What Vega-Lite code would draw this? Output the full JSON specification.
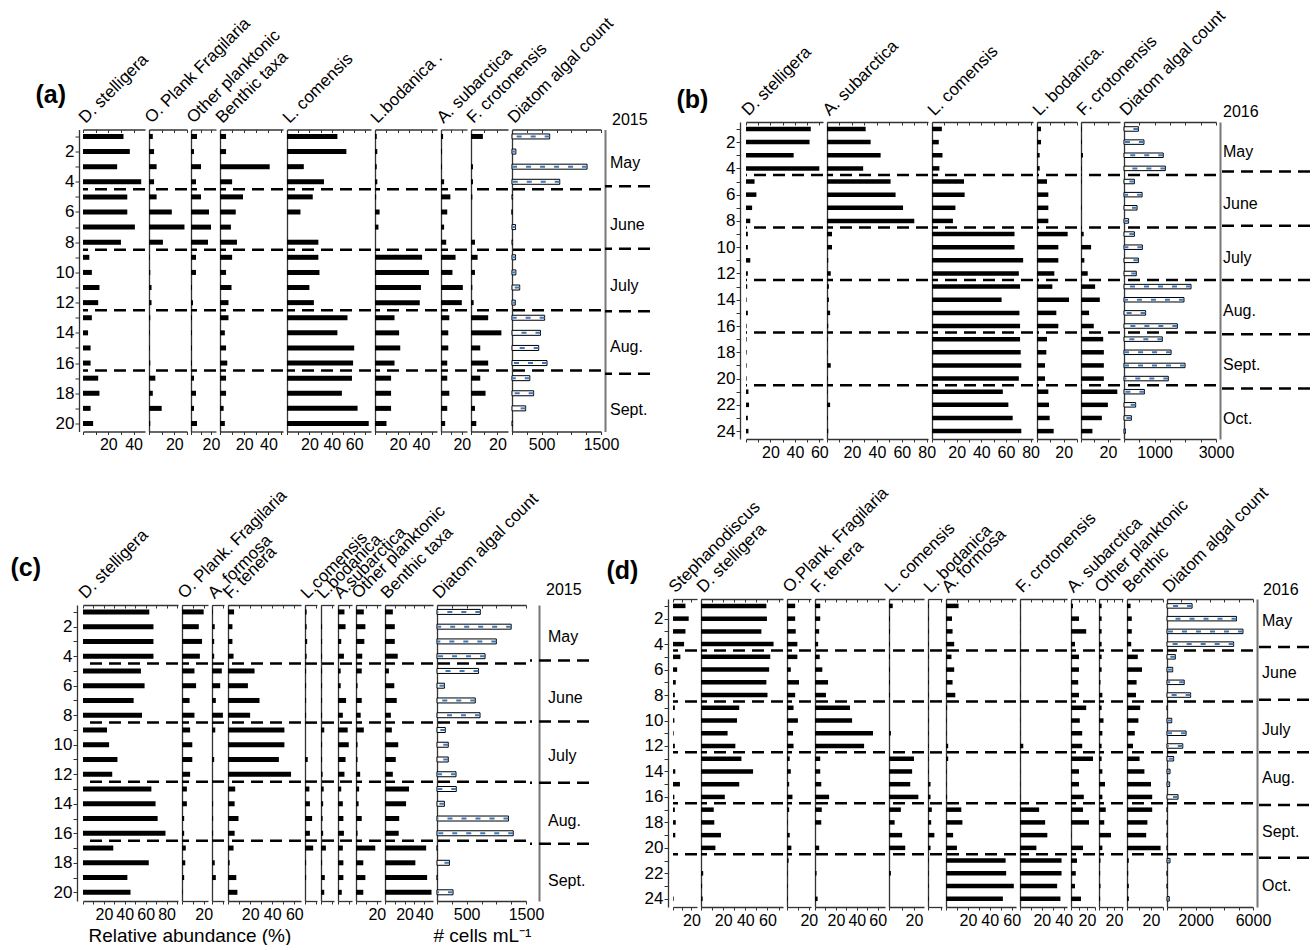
{
"$schema": "https://vega.github.io/schema/vega-lite/v6.json",
"autosize": {"type": "pad"},
"padding": {"left": 10, "top": 6, "right": 0, "bottom": 0},
"background": "white",
"datasets": {
"a": [
{"t":"Dst","s":1,"v":32},{"t":"Dst","s":2,"v":37},{"t":"Dst","s":3,"v":27},{"t":"Dst","s":4,"v":46},{"t":"Dst","s":5,"v":35},{"t":"Dst","s":6,"v":35},{"t":"Dst","s":7,"v":41},{"t":"Dst","s":8,"v":30},{"t":"Dst","s":9,"v":5},{"t":"Dst","s":10,"v":7},{"t":"Dst","s":11,"v":13},{"t":"Dst","s":12,"v":12},{"t":"Dst","s":13,"v":7},{"t":"Dst","s":14,"v":4},{"t":"Dst","s":15,"v":6},{"t":"Dst","s":16,"v":6},{"t":"Dst","s":17,"v":12},{"t":"Dst","s":18,"v":13},{"t":"Dst","s":19,"v":6},{"t":"Dst","s":20,"v":8},
{"t":"OPl","s":1,"v":3},{"t":"OPl","s":2,"v":4},{"t":"OPl","s":3,"v":6},{"t":"OPl","s":4,"v":4},{"t":"OPl","s":5,"v":6},{"t":"OPl","s":6,"v":18},{"t":"OPl","s":7,"v":28},{"t":"OPl","s":8,"v":11},{"t":"OPl","s":9,"v":0.5},{"t":"OPl","s":10,"v":1},{"t":"OPl","s":11,"v":2},{"t":"OPl","s":12,"v":2},{"t":"OPl","s":13,"v":1},{"t":"OPl","s":14,"v":0.5},{"t":"OPl","s":15,"v":0.5},{"t":"OPl","s":16,"v":1},{"t":"OPl","s":17,"v":5},{"t":"OPl","s":18,"v":3},{"t":"OPl","s":19,"v":10},{"t":"OPl","s":20,"v":1},
{"t":"Oth","s":1,"v":6},{"t":"Oth","s":2,"v":3},{"t":"Oth","s":3,"v":10},{"t":"Oth","s":4,"v":5},{"t":"Oth","s":5,"v":10},{"t":"Oth","s":6,"v":18},{"t":"Oth","s":7,"v":20},{"t":"Oth","s":8,"v":17},{"t":"Oth","s":9,"v":5},{"t":"Oth","s":10,"v":5},{"t":"Oth","s":11,"v":1},{"t":"Oth","s":12,"v":2},{"t":"Oth","s":13,"v":1},{"t":"Oth","s":14,"v":1},{"t":"Oth","s":15,"v":1},{"t":"Oth","s":16,"v":1},{"t":"Oth","s":17,"v":3},{"t":"Oth","s":18,"v":5},{"t":"Oth","s":19,"v":3},{"t":"Oth","s":20,"v":6},
{"t":"Ben","s":1,"v":5},{"t":"Ben","s":2,"v":5},{"t":"Ben","s":3,"v":41},{"t":"Ben","s":4,"v":10},{"t":"Ben","s":5,"v":19},{"t":"Ben","s":6,"v":13},{"t":"Ben","s":7,"v":9},{"t":"Ben","s":8,"v":14},{"t":"Ben","s":9,"v":10},{"t":"Ben","s":10,"v":5},{"t":"Ben","s":11,"v":9.5},{"t":"Ben","s":12,"v":7},{"t":"Ben","s":13,"v":7},{"t":"Ben","s":14,"v":4},{"t":"Ben","s":15,"v":5},{"t":"Ben","s":16,"v":6},{"t":"Ben","s":17,"v":5},{"t":"Ben","s":18,"v":5},{"t":"Ben","s":19,"v":3},{"t":"Ben","s":20,"v":4},
{"t":"Lcom","s":1,"v":45},{"t":"Lcom","s":2,"v":53},{"t":"Lcom","s":3,"v":15},{"t":"Lcom","s":4,"v":33},{"t":"Lcom","s":5,"v":23},{"t":"Lcom","s":6,"v":12},{"t":"Lcom","s":7,"v":0},{"t":"Lcom","s":8,"v":28},{"t":"Lcom","s":9,"v":28},{"t":"Lcom","s":10,"v":29},{"t":"Lcom","s":11,"v":20},{"t":"Lcom","s":12,"v":24},{"t":"Lcom","s":13,"v":54},{"t":"Lcom","s":14,"v":45},{"t":"Lcom","s":15,"v":60},{"t":"Lcom","s":16,"v":59},{"t":"Lcom","s":17,"v":58},{"t":"Lcom","s":18,"v":49},{"t":"Lcom","s":19,"v":63},{"t":"Lcom","s":20,"v":73},
{"t":"Lbod","s":1,"v":1.5},{"t":"Lbod","s":2,"v":2},{"t":"Lbod","s":3,"v":1.5},{"t":"Lbod","s":4,"v":2},{"t":"Lbod","s":5,"v":1},{"t":"Lbod","s":6,"v":4},{"t":"Lbod","s":7,"v":3},{"t":"Lbod","s":8,"v":0},{"t":"Lbod","s":9,"v":41},{"t":"Lbod","s":10,"v":47},{"t":"Lbod","s":11,"v":40},{"t":"Lbod","s":12,"v":39},{"t":"Lbod","s":13,"v":17},{"t":"Lbod","s":14,"v":21},{"t":"Lbod","s":15,"v":22},{"t":"Lbod","s":16,"v":17},{"t":"Lbod","s":17,"v":14},{"t":"Lbod","s":18,"v":14},{"t":"Lbod","s":19,"v":14},{"t":"Lbod","s":20,"v":10},
{"t":"Asub","s":1,"v":2},{"t":"Asub","s":2,"v":1},{"t":"Asub","s":3,"v":1},{"t":"Asub","s":4,"v":3},{"t":"Asub","s":5,"v":9},{"t":"Asub","s":6,"v":6},{"t":"Asub","s":7,"v":3},{"t":"Asub","s":8,"v":5},{"t":"Asub","s":9,"v":14},{"t":"Asub","s":10,"v":11},{"t":"Asub","s":11,"v":21},{"t":"Asub","s":12,"v":20},{"t":"Asub","s":13,"v":8},{"t":"Asub","s":14,"v":7},{"t":"Asub","s":15,"v":7},{"t":"Asub","s":16,"v":6},{"t":"Asub","s":17,"v":6},{"t":"Asub","s":18,"v":8},{"t":"Asub","s":19,"v":6},{"t":"Asub","s":20,"v":4},
{"t":"Fcro","s":1,"v":9},{"t":"Fcro","s":2,"v":0},{"t":"Fcro","s":3,"v":1.5},{"t":"Fcro","s":4,"v":1.5},{"t":"Fcro","s":5,"v":1},{"t":"Fcro","s":6,"v":0},{"t":"Fcro","s":7,"v":0},{"t":"Fcro","s":8,"v":3},{"t":"Fcro","s":9,"v":5},{"t":"Fcro","s":10,"v":3},{"t":"Fcro","s":11,"v":1},{"t":"Fcro","s":12,"v":2},{"t":"Fcro","s":13,"v":13},{"t":"Fcro","s":14,"v":23},{"t":"Fcro","s":15,"v":7},{"t":"Fcro","s":16,"v":13},{"t":"Fcro","s":17,"v":7},{"t":"Fcro","s":18,"v":11},{"t":"Fcro","s":19,"v":3},{"t":"Fcro","s":20,"v":4},
{"t":"Dia","s":1,"v":635},{"t":"Dia","s":2,"v":65},{"t":"Dia","s":3,"v":1265},{"t":"Dia","s":4,"v":805},{"t":"Dia","s":5,"v":10},{"t":"Dia","s":6,"v":0},{"t":"Dia","s":7,"v":60},{"t":"Dia","s":8,"v":10},{"t":"Dia","s":9,"v":60},{"t":"Dia","s":10,"v":65},{"t":"Dia","s":11,"v":130},{"t":"Dia","s":12,"v":55},{"t":"Dia","s":13,"v":550},{"t":"Dia","s":14,"v":480},{"t":"Dia","s":15,"v":450},{"t":"Dia","s":16,"v":590},{"t":"Dia","s":17,"v":300},{"t":"Dia","s":18,"v":365},{"t":"Dia","s":19,"v":230},{"t":"Dia","s":20,"v":10}
],
"b": [
{"t":"Dst","s":1,"v":53},{"t":"Dst","s":2,"v":52},{"t":"Dst","s":3,"v":39},{"t":"Dst","s":4,"v":60},{"t":"Dst","s":5,"v":7},{"t":"Dst","s":6,"v":8.5},{"t":"Dst","s":7,"v":5},{"t":"Dst","s":8,"v":3.5},{"t":"Dst","s":9,"v":1.5},{"t":"Dst","s":10,"v":1.5},{"t":"Dst","s":11,"v":3.5},{"t":"Dst","s":12,"v":1.5},{"t":"Dst","s":13,"v":1},{"t":"Dst","s":14,"v":0.5},{"t":"Dst","s":15,"v":1.5},{"t":"Dst","s":16,"v":0.5},{"t":"Dst","s":17,"v":0.5},{"t":"Dst","s":18,"v":0.5},{"t":"Dst","s":19,"v":0.5},{"t":"Dst","s":20,"v":0.5},{"t":"Dst","s":21,"v":2},{"t":"Dst","s":22,"v":2.5},{"t":"Dst","s":23,"v":1.5},{"t":"Dst","s":24,"v":2},
{"t":"Asub","s":1,"v":31},{"t":"Asub","s":2,"v":35},{"t":"Asub","s":3,"v":43},{"t":"Asub","s":4,"v":29},{"t":"Asub","s":5,"v":51},{"t":"Asub","s":6,"v":55},{"t":"Asub","s":7,"v":61},{"t":"Asub","s":8,"v":70},{"t":"Asub","s":9,"v":4},{"t":"Asub","s":10,"v":4},{"t":"Asub","s":11,"v":1},{"t":"Asub","s":12,"v":3},{"t":"Asub","s":13,"v":1.5},{"t":"Asub","s":14,"v":1.5},{"t":"Asub","s":15,"v":2.5},{"t":"Asub","s":16,"v":1},{"t":"Asub","s":17,"v":0.5},{"t":"Asub","s":18,"v":0.5},{"t":"Asub","s":19,"v":3},{"t":"Asub","s":20,"v":0.5},{"t":"Asub","s":21,"v":0.5},{"t":"Asub","s":22,"v":2.5},{"t":"Asub","s":23,"v":0.5},{"t":"Asub","s":24,"v":1},
{"t":"Lcom","s":1,"v":8},{"t":"Lcom","s":2,"v":5.5},{"t":"Lcom","s":3,"v":8.5},{"t":"Lcom","s":4,"v":6},{"t":"Lcom","s":5,"v":26},{"t":"Lcom","s":6,"v":26.5},{"t":"Lcom","s":7,"v":19},{"t":"Lcom","s":8,"v":17},{"t":"Lcom","s":9,"v":67},{"t":"Lcom","s":10,"v":67},{"t":"Lcom","s":11,"v":74},{"t":"Lcom","s":12,"v":70.5},{"t":"Lcom","s":13,"v":71.5},{"t":"Lcom","s":14,"v":56.5},{"t":"Lcom","s":15,"v":71},{"t":"Lcom","s":16,"v":71.5},{"t":"Lcom","s":17,"v":71.5},{"t":"Lcom","s":18,"v":72},{"t":"Lcom","s":19,"v":72.5},{"t":"Lcom","s":20,"v":70.5},{"t":"Lcom","s":21,"v":57.5},{"t":"Lcom","s":22,"v":62},{"t":"Lcom","s":23,"v":65.5},{"t":"Lcom","s":24,"v":72.5},
{"t":"Lbod","s":1,"v":3},{"t":"Lbod","s":2,"v":3},{"t":"Lbod","s":3,"v":2},{"t":"Lbod","s":4,"v":2},{"t":"Lbod","s":5,"v":7.5},{"t":"Lbod","s":6,"v":8.5},{"t":"Lbod","s":7,"v":8.5},{"t":"Lbod","s":8,"v":8.5},{"t":"Lbod","s":9,"v":23},{"t":"Lbod","s":10,"v":16},{"t":"Lbod","s":11,"v":16},{"t":"Lbod","s":12,"v":13},{"t":"Lbod","s":13,"v":11.5},{"t":"Lbod","s":14,"v":24},{"t":"Lbod","s":15,"v":14.5},{"t":"Lbod","s":16,"v":16},{"t":"Lbod","s":17,"v":7.5},{"t":"Lbod","s":18,"v":7},{"t":"Lbod","s":19,"v":6},{"t":"Lbod","s":20,"v":6},{"t":"Lbod","s":21,"v":8.5},{"t":"Lbod","s":22,"v":9},{"t":"Lbod","s":23,"v":9.5},{"t":"Lbod","s":24,"v":12.5},
{"t":"Fcro","s":1,"v":0.5},{"t":"Fcro","s":2,"v":0.7},{"t":"Fcro","s":3,"v":1.5},{"t":"Fcro","s":4,"v":0.5},{"t":"Fcro","s":5,"v":0.5},{"t":"Fcro","s":6,"v":0},{"t":"Fcro","s":7,"v":0.5},{"t":"Fcro","s":8,"v":0},{"t":"Fcro","s":9,"v":2},{"t":"Fcro","s":10,"v":7.5},{"t":"Fcro","s":11,"v":2.5},{"t":"Fcro","s":12,"v":5},{"t":"Fcro","s":13,"v":10.5},{"t":"Fcro","s":14,"v":14},{"t":"Fcro","s":15,"v":6},{"t":"Fcro","s":16,"v":9.5},{"t":"Fcro","s":17,"v":16.5},{"t":"Fcro","s":18,"v":17},{"t":"Fcro","s":19,"v":17},{"t":"Fcro","s":20,"v":17},{"t":"Fcro","s":21,"v":27},{"t":"Fcro","s":22,"v":20},{"t":"Fcro","s":23,"v":15.5},{"t":"Fcro","s":24,"v":8.5},
{"t":"Dia","s":1,"v":470},{"t":"Dia","s":2,"v":650},{"t":"Dia","s":3,"v":1280},{"t":"Dia","s":4,"v":1350},{"t":"Dia","s":5,"v":340},{"t":"Dia","s":6,"v":590},{"t":"Dia","s":7,"v":425},{"t":"Dia","s":8,"v":150},{"t":"Dia","s":9,"v":340},{"t":"Dia","s":10,"v":600},{"t":"Dia","s":11,"v":470},{"t":"Dia","s":12,"v":400},{"t":"Dia","s":13,"v":2185},{"t":"Dia","s":14,"v":1955},{"t":"Dia","s":15,"v":705},{"t":"Dia","s":16,"v":1740},{"t":"Dia","s":17,"v":1250},{"t":"Dia","s":18,"v":1535},{"t":"Dia","s":19,"v":1990},{"t":"Dia","s":20,"v":1445},{"t":"Dia","s":21,"v":665},{"t":"Dia","s":22,"v":380},{"t":"Dia","s":23,"v":240},{"t":"Dia","s":24,"v":45}
],
"c": [
{"t":"Dst","s":1,"v":63.5},{"t":"Dst","s":2,"v":67.5},{"t":"Dst","s":3,"v":67.5},{"t":"Dst","s":4,"v":67.5},{"t":"Dst","s":5,"v":55.5},{"t":"Dst","s":6,"v":59},{"t":"Dst","s":7,"v":48.5},{"t":"Dst","s":8,"v":56.5},{"t":"Dst","s":9,"v":23},{"t":"Dst","s":10,"v":25},{"t":"Dst","s":11,"v":33},{"t":"Dst","s":12,"v":28},{"t":"Dst","s":13,"v":65.5},{"t":"Dst","s":14,"v":69.5},{"t":"Dst","s":15,"v":71.5},{"t":"Dst","s":16,"v":79},{"t":"Dst","s":17,"v":29},{"t":"Dst","s":18,"v":63},{"t":"Dst","s":19,"v":42.5},{"t":"Dst","s":20,"v":45.5},
{"t":"OPl","s":1,"v":20},{"t":"OPl","s":2,"v":15.5},{"t":"OPl","s":3,"v":18.5},{"t":"OPl","s":4,"v":16.5},{"t":"OPl","s":5,"v":11.5},{"t":"OPl","s":6,"v":13},{"t":"OPl","s":7,"v":7},{"t":"OPl","s":8,"v":11.5},{"t":"OPl","s":9,"v":7.5},{"t":"OPl","s":10,"v":9.5},{"t":"OPl","s":11,"v":9.5},{"t":"OPl","s":12,"v":7.5},{"t":"OPl","s":13,"v":4.5},{"t":"OPl","s":14,"v":4.5},{"t":"OPl","s":15,"v":2},{"t":"OPl","s":16,"v":2},{"t":"OPl","s":17,"v":3.5},{"t":"OPl","s":18,"v":3},{"t":"OPl","s":19,"v":2},{"t":"OPl","s":20,"v":0.5},
{"t":"Afor","s":1,"v":0.5},{"t":"Afor","s":2,"v":2.5},{"t":"Afor","s":3,"v":2},{"t":"Afor","s":4,"v":2},{"t":"Afor","s":5,"v":9},{"t":"Afor","s":6,"v":7.5},{"t":"Afor","s":7,"v":3.5},{"t":"Afor","s":8,"v":10},{"t":"Afor","s":9,"v":3},{"t":"Afor","s":10,"v":0},{"t":"Afor","s":11,"v":2},{"t":"Afor","s":12,"v":0},{"t":"Afor","s":13,"v":0},{"t":"Afor","s":14,"v":1},{"t":"Afor","s":15,"v":1},{"t":"Afor","s":16,"v":1},{"t":"Afor","s":17,"v":0},{"t":"Afor","s":18,"v":2.5},{"t":"Afor","s":19,"v":3.5},{"t":"Afor","s":20,"v":0},
{"t":"Ften","s":1,"v":5.5},{"t":"Ften","s":2,"v":4},{"t":"Ften","s":3,"v":4},{"t":"Ften","s":4,"v":5},{"t":"Ften","s":5,"v":24},{"t":"Ften","s":6,"v":18},{"t":"Ften","s":7,"v":28.5},{"t":"Ften","s":8,"v":20},{"t":"Ften","s":9,"v":51},{"t":"Ften","s":10,"v":51},{"t":"Ften","s":11,"v":46},{"t":"Ften","s":12,"v":57},{"t":"Ften","s":13,"v":6.5},{"t":"Ften","s":14,"v":6},{"t":"Ften","s":15,"v":9.5},{"t":"Ften","s":16,"v":6},{"t":"Ften","s":17,"v":5},{"t":"Ften","s":18,"v":1.5},{"t":"Ften","s":19,"v":7.5},{"t":"Ften","s":20,"v":8.5},
{"t":"Lcom","s":1,"v":1.5},{"t":"Lcom","s":2,"v":1.5},{"t":"Lcom","s":3,"v":2},{"t":"Lcom","s":4,"v":1.5},{"t":"Lcom","s":5,"v":1},{"t":"Lcom","s":6,"v":1},{"t":"Lcom","s":7,"v":1},{"t":"Lcom","s":8,"v":1},{"t":"Lcom","s":9,"v":0},{"t":"Lcom","s":10,"v":0},{"t":"Lcom","s":11,"v":2.5},{"t":"Lcom","s":12,"v":0},{"t":"Lcom","s":13,"v":4},{"t":"Lcom","s":14,"v":4.5},{"t":"Lcom","s":15,"v":6.5},{"t":"Lcom","s":16,"v":4.5},{"t":"Lcom","s":17,"v":7.5},{"t":"Lcom","s":18,"v":1},{"t":"Lcom","s":19,"v":1},{"t":"Lcom","s":20,"v":0},
{"t":"Lbod","s":1,"v":0},{"t":"Lbod","s":2,"v":1},{"t":"Lbod","s":3,"v":1},{"t":"Lbod","s":4,"v":1},{"t":"Lbod","s":5,"v":1},{"t":"Lbod","s":6,"v":1},{"t":"Lbod","s":7,"v":1},{"t":"Lbod","s":8,"v":1},{"t":"Lbod","s":9,"v":3},{"t":"Lbod","s":10,"v":1},{"t":"Lbod","s":11,"v":1},{"t":"Lbod","s":12,"v":1.5},{"t":"Lbod","s":13,"v":2.5},{"t":"Lbod","s":14,"v":2},{"t":"Lbod","s":15,"v":1.5},{"t":"Lbod","s":16,"v":2},{"t":"Lbod","s":17,"v":4.5},{"t":"Lbod","s":18,"v":1},{"t":"Lbod","s":19,"v":3.5},{"t":"Lbod","s":20,"v":3},
{"t":"Asub","s":1,"v":6},{"t":"Asub","s":2,"v":7},{"t":"Asub","s":3,"v":3},{"t":"Asub","s":4,"v":5.5},{"t":"Asub","s":5,"v":2.5},{"t":"Asub","s":6,"v":2.5},{"t":"Asub","s":7,"v":7.5},{"t":"Asub","s":8,"v":4.5},{"t":"Asub","s":9,"v":9},{"t":"Asub","s":10,"v":10},{"t":"Asub","s":11,"v":7},{"t":"Asub","s":12,"v":6},{"t":"Asub","s":13,"v":3},{"t":"Asub","s":14,"v":4.5},{"t":"Asub","s":15,"v":5},{"t":"Asub","s":16,"v":5.5},{"t":"Asub","s":17,"v":4.5},{"t":"Asub","s":18,"v":5},{"t":"Asub","s":19,"v":5},{"t":"Asub","s":20,"v":3.5},
{"t":"Oth","s":1,"v":7.5},{"t":"Oth","s":2,"v":9},{"t":"Oth","s":3,"v":8},{"t":"Oth","s":4,"v":6},{"t":"Oth","s":5,"v":5.5},{"t":"Oth","s":6,"v":1.5},{"t":"Oth","s":7,"v":5.5},{"t":"Oth","s":8,"v":4.5},{"t":"Oth","s":9,"v":7.5},{"t":"Oth","s":10,"v":1.5},{"t":"Oth","s":11,"v":1.5},{"t":"Oth","s":12,"v":4},{"t":"Oth","s":13,"v":3},{"t":"Oth","s":14,"v":2.5},{"t":"Oth","s":15,"v":5.5},{"t":"Oth","s":16,"v":1.5},{"t":"Oth","s":17,"v":18.5},{"t":"Oth","s":18,"v":7},{"t":"Oth","s":19,"v":9},{"t":"Oth","s":20,"v":7},
{"t":"Ben","s":1,"v":8},{"t":"Ben","s":2,"v":10},{"t":"Ben","s":3,"v":10},{"t":"Ben","s":4,"v":13},{"t":"Ben","s":5,"v":4},{"t":"Ben","s":6,"v":9.5},{"t":"Ben","s":7,"v":12},{"t":"Ben","s":8,"v":6},{"t":"Ben","s":9,"v":7},{"t":"Ben","s":10,"v":13.5},{"t":"Ben","s":11,"v":11},{"t":"Ben","s":12,"v":8},{"t":"Ben","s":13,"v":24.5},{"t":"Ben","s":14,"v":21.5},{"t":"Ben","s":15,"v":14.5},{"t":"Ben","s":16,"v":14},{"t":"Ben","s":17,"v":42},{"t":"Ben","s":18,"v":31},{"t":"Ben","s":19,"v":43},{"t":"Ben","s":20,"v":47.5},
{"t":"Dia","s":1,"v":730},{"t":"Dia","s":2,"v":1250},{"t":"Dia","s":3,"v":1000},{"t":"Dia","s":4,"v":810},{"t":"Dia","s":5,"v":700},{"t":"Dia","s":6,"v":125},{"t":"Dia","s":7,"v":645},{"t":"Dia","s":8,"v":725},{"t":"Dia","s":9,"v":140},{"t":"Dia","s":10,"v":190},{"t":"Dia","s":11,"v":190},{"t":"Dia","s":12,"v":320},{"t":"Dia","s":13,"v":325},{"t":"Dia","s":14,"v":125},{"t":"Dia","s":15,"v":1205},{"t":"Dia","s":16,"v":1285},{"t":"Dia","s":17,"v":5},{"t":"Dia","s":18,"v":210},{"t":"Dia","s":19,"v":5},{"t":"Dia","s":20,"v":270}
],
"d": [
{"t":"Steph","s":1,"v":13.5},{"t":"Steph","s":2,"v":17},{"t":"Steph","s":3,"v":13.5},{"t":"Steph","s":4,"v":12},{"t":"Steph","s":5,"v":8},{"t":"Steph","s":6,"v":4.5},{"t":"Steph","s":7,"v":3},{"t":"Steph","s":8,"v":2},{"t":"Steph","s":9,"v":2},{"t":"Steph","s":10,"v":1.5},{"t":"Steph","s":11,"v":0.7},{"t":"Steph","s":12,"v":2},{"t":"Steph","s":13,"v":0},{"t":"Steph","s":14,"v":2.5},{"t":"Steph","s":15,"v":7.5},{"t":"Steph","s":16,"v":1.5},{"t":"Steph","s":17,"v":2},{"t":"Steph","s":18,"v":3},{"t":"Steph","s":19,"v":2.5},{"t":"Steph","s":20,"v":0},{"t":"Steph","s":21,"v":0},{"t":"Steph","s":22,"v":0},{"t":"Steph","s":23,"v":0},{"t":"Steph","s":24,"v":0.7},
{"t":"Dst","s":1,"v":59},{"t":"Dst","s":2,"v":59.5},{"t":"Dst","s":3,"v":54.5},{"t":"Dst","s":4,"v":65.5},{"t":"Dst","s":5,"v":62.5},{"t":"Dst","s":6,"v":61.5},{"t":"Dst","s":7,"v":59},{"t":"Dst","s":8,"v":60},{"t":"Dst","s":9,"v":34.5},{"t":"Dst","s":10,"v":32.5},{"t":"Dst","s":11,"v":24},{"t":"Dst","s":12,"v":31},{"t":"Dst","s":13,"v":36.5},{"t":"Dst","s":14,"v":47},{"t":"Dst","s":15,"v":34.5},{"t":"Dst","s":16,"v":21.5},{"t":"Dst","s":17,"v":11.5},{"t":"Dst","s":18,"v":12},{"t":"Dst","s":19,"v":18},{"t":"Dst","s":20,"v":13},{"t":"Dst","s":21,"v":0},{"t":"Dst","s":22,"v":2},{"t":"Dst","s":23,"v":1},{"t":"Dst","s":24,"v":1.5},
{"t":"OPl","s":1,"v":7.5},{"t":"OPl","s":2,"v":7.5},{"t":"OPl","s":3,"v":8},{"t":"OPl","s":4,"v":9.5},{"t":"OPl","s":5,"v":9.5},{"t":"OPl","s":6,"v":3.5},{"t":"OPl","s":7,"v":11},{"t":"OPl","s":8,"v":7.5},{"t":"OPl","s":9,"v":6},{"t":"OPl","s":10,"v":10},{"t":"OPl","s":11,"v":5.5},{"t":"OPl","s":12,"v":6},{"t":"OPl","s":13,"v":2.5},{"t":"OPl","s":14,"v":3.5},{"t":"OPl","s":15,"v":2},{"t":"OPl","s":16,"v":5},{"t":"OPl","s":17,"v":2},{"t":"OPl","s":18,"v":0.5},{"t":"OPl","s":19,"v":2.5},{"t":"OPl","s":20,"v":4},{"t":"OPl","s":21,"v":1.5},{"t":"OPl","s":22,"v":0.5},{"t":"OPl","s":23,"v":0.5},{"t":"OPl","s":24,"v":0.5},
{"t":"Ften","s":1,"v":5},{"t":"Ften","s":2,"v":5},{"t":"Ften","s":3,"v":4},{"t":"Ften","s":4,"v":3},{"t":"Ften","s":5,"v":4.5},{"t":"Ften","s":6,"v":7},{"t":"Ften","s":7,"v":12.5},{"t":"Ften","s":8,"v":10.5},{"t":"Ften","s":9,"v":33.5},{"t":"Ften","s":10,"v":35.5},{"t":"Ften","s":11,"v":55.5},{"t":"Ften","s":12,"v":47},{"t":"Ften","s":13,"v":5},{"t":"Ften","s":14,"v":5},{"t":"Ften","s":15,"v":6},{"t":"Ften","s":16,"v":13.5},{"t":"Ften","s":17,"v":6.5},{"t":"Ften","s":18,"v":6},{"t":"Ften","s":19,"v":0},{"t":"Ften","s":20,"v":4},{"t":"Ften","s":21,"v":0},{"t":"Ften","s":22,"v":1.5},{"t":"Ften","s":23,"v":0},{"t":"Ften","s":24,"v":2.5},
{"t":"Lcom","s":1,"v":3},{"t":"Lcom","s":2,"v":0.8},{"t":"Lcom","s":3,"v":0.8},{"t":"Lcom","s":4,"v":0.8},{"t":"Lcom","s":5,"v":0.8},{"t":"Lcom","s":6,"v":0.8},{"t":"Lcom","s":7,"v":0.8},{"t":"Lcom","s":8,"v":0.8},{"t":"Lcom","s":9,"v":0},{"t":"Lcom","s":10,"v":0},{"t":"Lcom","s":11,"v":1.5},{"t":"Lcom","s":12,"v":0},{"t":"Lcom","s":13,"v":20},{"t":"Lcom","s":14,"v":18.5},{"t":"Lcom","s":15,"v":17},{"t":"Lcom","s":16,"v":23.5},{"t":"Lcom","s":17,"v":9.5},{"t":"Lcom","s":18,"v":4.5},{"t":"Lcom","s":19,"v":10.5},{"t":"Lcom","s":20,"v":13},{"t":"Lcom","s":21,"v":0},{"t":"Lcom","s":22,"v":1.5},{"t":"Lcom","s":23,"v":0},{"t":"Lcom","s":24,"v":0},
{"t":"Lbod","s":1,"v":0.5},{"t":"Lbod","s":2,"v":0.5},{"t":"Lbod","s":3,"v":0.5},{"t":"Lbod","s":4,"v":0.5},{"t":"Lbod","s":5,"v":0.5},{"t":"Lbod","s":6,"v":0.5},{"t":"Lbod","s":7,"v":0.5},{"t":"Lbod","s":8,"v":0.5},{"t":"Lbod","s":9,"v":0.5},{"t":"Lbod","s":10,"v":0.5},{"t":"Lbod","s":11,"v":0.5},{"t":"Lbod","s":12,"v":0.5},{"t":"Lbod","s":13,"v":0.5},{"t":"Lbod","s":14,"v":0.5},{"t":"Lbod","s":15,"v":2},{"t":"Lbod","s":16,"v":2},{"t":"Lbod","s":17,"v":3},{"t":"Lbod","s":18,"v":2.5},{"t":"Lbod","s":19,"v":5},{"t":"Lbod","s":20,"v":2},{"t":"Lbod","s":21,"v":0.5},{"t":"Lbod","s":22,"v":0.5},{"t":"Lbod","s":23,"v":0.5},{"t":"Lbod","s":24,"v":0.5},
{"t":"Afor","s":1,"v":11.5},{"t":"Afor","s":2,"v":5.5},{"t":"Afor","s":3,"v":6},{"t":"Afor","s":4,"v":7.5},{"t":"Afor","s":5,"v":5},{"t":"Afor","s":6,"v":7.5},{"t":"Afor","s":7,"v":6},{"t":"Afor","s":8,"v":8.5},{"t":"Afor","s":9,"v":1},{"t":"Afor","s":10,"v":0.5},{"t":"Afor","s":11,"v":0.5},{"t":"Afor","s":12,"v":2},{"t":"Afor","s":13,"v":2},{"t":"Afor","s":14,"v":0.5},{"t":"Afor","s":15,"v":0.5},{"t":"Afor","s":16,"v":1},{"t":"Afor","s":17,"v":14},{"t":"Afor","s":18,"v":15},{"t":"Afor","s":19,"v":6.5},{"t":"Afor","s":20,"v":10},{"t":"Afor","s":21,"v":54.5},{"t":"Afor","s":22,"v":55},{"t":"Afor","s":23,"v":62},{"t":"Afor","s":24,"v":52},
{"t":"Fcro","s":1,"v":0.3},{"t":"Fcro","s":2,"v":0.3},{"t":"Fcro","s":3,"v":0.3},{"t":"Fcro","s":4,"v":0.3},{"t":"Fcro","s":5,"v":0.3},{"t":"Fcro","s":6,"v":0.3},{"t":"Fcro","s":7,"v":0.3},{"t":"Fcro","s":8,"v":0.3},{"t":"Fcro","s":9,"v":0.3},{"t":"Fcro","s":10,"v":0.3},{"t":"Fcro","s":11,"v":0.3},{"t":"Fcro","s":12,"v":3},{"t":"Fcro","s":13,"v":0.3},{"t":"Fcro","s":14,"v":0.3},{"t":"Fcro","s":15,"v":0.3},{"t":"Fcro","s":16,"v":0.3},{"t":"Fcro","s":17,"v":17.5},{"t":"Fcro","s":18,"v":23},{"t":"Fcro","s":19,"v":25},{"t":"Fcro","s":20,"v":15},{"t":"Fcro","s":21,"v":38},{"t":"Fcro","s":22,"v":38},{"t":"Fcro","s":23,"v":34},{"t":"Fcro","s":24,"v":37},
{"t":"Asub","s":1,"v":2.5},{"t":"Asub","s":2,"v":10},{"t":"Asub","s":3,"v":19},{"t":"Asub","s":4,"v":5},{"t":"Asub","s":5,"v":10},{"t":"Asub","s":6,"v":10},{"t":"Asub","s":7,"v":9},{"t":"Asub","s":8,"v":10},{"t":"Asub","s":9,"v":19},{"t":"Asub","s":10,"v":11},{"t":"Asub","s":11,"v":14},{"t":"Asub","s":12,"v":14},{"t":"Asub","s":13,"v":27.5},{"t":"Asub","s":14,"v":10},{"t":"Asub","s":15,"v":10},{"t":"Asub","s":16,"v":16},{"t":"Asub","s":17,"v":15},{"t":"Asub","s":18,"v":22.5},{"t":"Asub","s":19,"v":0.5},{"t":"Asub","s":20,"v":15},{"t":"Asub","s":21,"v":7.5},{"t":"Asub","s":22,"v":6},{"t":"Asub","s":23,"v":5},{"t":"Asub","s":24,"v":12.5},
{"t":"Oth","s":1,"v":3.5},{"t":"Oth","s":2,"v":3.5},{"t":"Oth","s":3,"v":3.5},{"t":"Oth","s":4,"v":3.5},{"t":"Oth","s":5,"v":3.5},{"t":"Oth","s":6,"v":3.5},{"t":"Oth","s":7,"v":2},{"t":"Oth","s":8,"v":4.5},{"t":"Oth","s":9,"v":3.5},{"t":"Oth","s":10,"v":6},{"t":"Oth","s":11,"v":4.5},{"t":"Oth","s":12,"v":3.5},{"t":"Oth","s":13,"v":3.5},{"t":"Oth","s":14,"v":4.5},{"t":"Oth","s":15,"v":8},{"t":"Oth","s":16,"v":4.5},{"t":"Oth","s":17,"v":9},{"t":"Oth","s":18,"v":7},{"t":"Oth","s":19,"v":16},{"t":"Oth","s":20,"v":4.5},{"t":"Oth","s":21,"v":2},{"t":"Oth","s":22,"v":1.5},{"t":"Oth","s":23,"v":2},{"t":"Oth","s":24,"v":1.5},
{"t":"Ben","s":1,"v":3},{"t":"Ben","s":2,"v":4},{"t":"Ben","s":3,"v":4},{"t":"Ben","s":4,"v":3.5},{"t":"Ben","s":5,"v":9},{"t":"Ben","s":6,"v":12.5},{"t":"Ben","s":7,"v":8},{"t":"Ben","s":8,"v":7.5},{"t":"Ben","s":9,"v":11},{"t":"Ben","s":10,"v":9.5},{"t":"Ben","s":11,"v":6.5},{"t":"Ben","s":12,"v":5},{"t":"Ben","s":13,"v":10.5},{"t":"Ben","s":14,"v":14.5},{"t":"Ben","s":15,"v":20},{"t":"Ben","s":16,"v":21},{"t":"Ben","s":17,"v":21},{"t":"Ben","s":18,"v":17},{"t":"Ben","s":19,"v":16},{"t":"Ben","s":20,"v":28},{"t":"Ben","s":21,"v":1.5},{"t":"Ben","s":22,"v":1},{"t":"Ben","s":23,"v":1.5},{"t":"Ben","s":24,"v":1.5},
{"t":"Dia","s":1,"v":1750},{"t":"Dia","s":2,"v":4850},{"t":"Dia","s":3,"v":5300},{"t":"Dia","s":4,"v":4650},{"t":"Dia","s":5,"v":580},{"t":"Dia","s":6,"v":400},{"t":"Dia","s":7,"v":1200},{"t":"Dia","s":8,"v":1650},{"t":"Dia","s":9,"v":25},{"t":"Dia","s":10,"v":330},{"t":"Dia","s":11,"v":1330},{"t":"Dia","s":12,"v":1100},{"t":"Dia","s":13,"v":465},{"t":"Dia","s":14,"v":210},{"t":"Dia","s":15,"v":185},{"t":"Dia","s":16,"v":770},{"t":"Dia","s":17,"v":20},{"t":"Dia","s":18,"v":20},{"t":"Dia","s":19,"v":20},{"t":"Dia","s":20,"v":20},{"t":"Dia","s":21,"v":210},{"t":"Dia","s":22,"v":20},{"t":"Dia","s":23,"v":20},{"t":"Dia","s":24,"v":160}
],
"bda": [{"s":4.5},{"s":8.5},{"s":12.5},{"s":16.5}],
"bdb": [{"s":4.5},{"s":8.5},{"s":12.5},{"s":16.5},{"s":20.5}],
"moa": [{"m":"May","s":3.0},{"m":"June","s":7.0},{"m":"July","s":10.9},{"m":"Aug.","s":14.8},{"m":"Sept.","s":18.8}],
"mob": [{"m":"May","s":3.05},{"m":"June","s":6.9},{"m":"July","s":10.85},{"m":"Aug.","s":14.75},{"m":"Sept.","s":18.75},{"m":"Oct.","s":22.75}],
"moc": [{"m":"May","s":2.95},{"m":"June","s":6.95},{"m":"July","s":10.75},{"m":"Aug.","s":15},{"m":"Sept.","s":18.95}],
"mod": [{"m":"May","s":2.55},{"m":"June","s":6.5},{"m":"July","s":10.8},{"m":"Aug.","s":14.45},{"m":"Sept.","s":18.55},{"m":"Oct.","s":22.65}]
},
"spacing": 23,
"vconcat": [
{"bounds": "flush", "spacing": 4, "center": true, "hconcat": [
{"width":62,"height":302,"resolve":{"axis":{"x":"independent"}},"encoding":{"y":{"field":"s","type":"quantitative","scale":{"domain":[0.87,20.2],"reverse":true,"nice":false,"zero":false},"axis":{"title":"(a)","labels":true,"ticks":true,"values":[1,2,3,4,5,6,7,8,9,10,11,12,13,14,15,16,17,18,19,20],"labelExpr":"datum.value % 2 == 0 ? datum.label : ''","tickSize":4,"labelFontSize":17,"labelPadding":1,"offset":4,"titleAngle":0,"titleX":-44,"titleY":-27,"titleAlign":"left","titleBaseline":"alphabetic","titleFontSize":25,"titleFontWeight":"bold"}}},"layer":[
{"data":{"name":"a"},"transform":[{"filter":"datum.t=='Dst'"}],"mark":{"type":"bar","orient":"horizontal"},"encoding":{"x":{"field":"v","type":"quantitative","scale":{"domain":[0,49],"nice":false},"axis":{"values":[0,10,20,30,40],"labelExpr":"datum.value > 0 && datum.value % 20 == 0 ? datum.label : ''","title":"(a)","titleOpacity":0,"titleX":-73,"titleY":-150,"titleAngle":0,"titleAlign":"left","titleBaseline":"alphabetic","titleFontSize":25,"titleFontWeight":"bold"}}}},
{"data":{"name":"a"},"transform":[{"filter":"datum.t=='Dst'"}],"mark":{"type":"point","opacity":0},"encoding":{"x":{"field":"v","type":"quantitative","axis":{"orient":"top","values":[0,10,20,30,40],"title":"D. stelligera"}}}},
{"data":{"name":"bda"},"mark":"rule","encoding":{}}]},
{"width":38,"height":302,"resolve":{"axis":{"x":"independent"}},"encoding":{"y":{"field":"s","type":"quantitative","scale":{"domain":[0.87,20.2],"reverse":true,"nice":false,"zero":false},"axis":{"title":null}}},"layer":[
{"data":{"name":"a"},"transform":[{"filter":"datum.t=='OPl'"}],"mark":{"type":"bar","orient":"horizontal"},"encoding":{"x":{"field":"v","type":"quantitative","scale":{"domain":[0,30],"nice":false},"axis":{"values":[0,10,20,30],"labelExpr":"datum.value > 0 && datum.value % 20 == 0 ? datum.label : ''","title":null}}}},
{"data":{"name":"a"},"transform":[{"filter":"datum.t=='OPl'"}],"mark":{"type":"point","opacity":0},"encoding":{"x":{"field":"v","type":"quantitative","axis":{"orient":"top","values":[0,10,20,30],"title":"O. Plank Fragilaria"}}}},
{"data":{"name":"bda"},"mark":"rule","encoding":{}}]},
{"width":25,"height":302,"resolve":{"axis":{"x":"independent"}},"encoding":{"y":{"field":"s","type":"quantitative","scale":{"domain":[0.87,20.2],"reverse":true,"nice":false,"zero":false},"axis":{"title":null}}},"layer":[
{"data":{"name":"a"},"transform":[{"filter":"datum.t=='Oth'"}],"mark":{"type":"bar","orient":"horizontal"},"encoding":{"x":{"field":"v","type":"quantitative","scale":{"domain":[0,25],"nice":false},"axis":{"values":[0,10,20],"labelExpr":"datum.value > 0 && datum.value % 20 == 0 ? datum.label : ''","title":null}}}},
{"data":{"name":"a"},"transform":[{"filter":"datum.t=='Oth'"}],"mark":{"type":"point","opacity":0},"encoding":{"x":{"field":"v","type":"quantitative","axis":{"orient":"top","values":[0,10,20],"title":"Other planktonic"}}}},
{"data":{"name":"bda"},"mark":"rule","encoding":{}}]},
{"width":63,"height":302,"resolve":{"axis":{"x":"independent"}},"encoding":{"y":{"field":"s","type":"quantitative","scale":{"domain":[0.87,20.2],"reverse":true,"nice":false,"zero":false},"axis":{"title":null}}},"layer":[
{"data":{"name":"a"},"transform":[{"filter":"datum.t=='Ben'"}],"mark":{"type":"bar","orient":"horizontal"},"encoding":{"x":{"field":"v","type":"quantitative","scale":{"domain":[0,52],"nice":false},"axis":{"values":[0,10,20,30,40,50],"labelExpr":"datum.value > 0 && datum.value % 20 == 0 ? datum.label : ''","title":null}}}},
{"data":{"name":"a"},"transform":[{"filter":"datum.t=='Ben'"}],"mark":{"type":"point","opacity":0},"encoding":{"x":{"field":"v","type":"quantitative","axis":{"orient":"top","values":[0,10,20,30,40,50],"title":"Benthic taxa"}}}},
{"data":{"name":"bda"},"mark":"rule","encoding":{}}]},
{"width":84,"height":302,"resolve":{"axis":{"x":"independent"}},"encoding":{"y":{"field":"s","type":"quantitative","scale":{"domain":[0.87,20.2],"reverse":true,"nice":false,"zero":false},"axis":{"title":null}}},"layer":[
{"data":{"name":"a"},"transform":[{"filter":"datum.t=='Lcom'"}],"mark":{"type":"bar","orient":"horizontal"},"encoding":{"x":{"field":"v","type":"quantitative","scale":{"domain":[0,75],"nice":false},"axis":{"values":[0,10,20,30,40,50,60,70],"labelExpr":"datum.value > 0 && datum.value % 20 == 0 ? datum.label : ''","title":null}}}},
{"data":{"name":"a"},"transform":[{"filter":"datum.t=='Lcom'"}],"mark":{"type":"point","opacity":0},"encoding":{"x":{"field":"v","type":"quantitative","axis":{"orient":"top","values":[0,10,20,30,40,50,60,70],"title":"L. comensis"}}}},
{"data":{"name":"bda"},"mark":"rule","encoding":{}}]},
{"width":62,"height":302,"resolve":{"axis":{"x":"independent"}},"encoding":{"y":{"field":"s","type":"quantitative","scale":{"domain":[0.87,20.2],"reverse":true,"nice":false,"zero":false},"axis":{"title":null}}},"layer":[
{"data":{"name":"a"},"transform":[{"filter":"datum.t=='Lbod'"}],"mark":{"type":"bar","orient":"horizontal"},"encoding":{"x":{"field":"v","type":"quantitative","scale":{"domain":[0,54],"nice":false},"axis":{"values":[0,10,20,30,40,50],"labelExpr":"datum.value > 0 && datum.value % 20 == 0 ? datum.label : ''","title":null}}}},
{"data":{"name":"a"},"transform":[{"filter":"datum.t=='Lbod'"}],"mark":{"type":"point","opacity":0},"encoding":{"x":{"field":"v","type":"quantitative","axis":{"orient":"top","values":[0,10,20,30,40,50],"title":"L.bodanica ."}}}},
{"data":{"name":"bda"},"mark":"rule","encoding":{}}]},
{"width":26,"height":302,"resolve":{"axis":{"x":"independent"}},"encoding":{"y":{"field":"s","type":"quantitative","scale":{"domain":[0.87,20.2],"reverse":true,"nice":false,"zero":false},"axis":{"title":null}}},"layer":[
{"data":{"name":"a"},"transform":[{"filter":"datum.t=='Asub'"}],"mark":{"type":"bar","orient":"horizontal"},"encoding":{"x":{"field":"v","type":"quantitative","scale":{"domain":[0,25],"nice":false},"axis":{"values":[0,10,20],"labelExpr":"datum.value > 0 && datum.value % 20 == 0 ? datum.label : ''","title":null}}}},
{"data":{"name":"a"},"transform":[{"filter":"datum.t=='Asub'"}],"mark":{"type":"point","opacity":0},"encoding":{"x":{"field":"v","type":"quantitative","axis":{"orient":"top","values":[0,10,20],"title":"A. subarctica"}}}},
{"data":{"name":"bda"},"mark":"rule","encoding":{}}]},
{"width":37,"height":302,"resolve":{"axis":{"x":"independent"}},"encoding":{"y":{"field":"s","type":"quantitative","scale":{"domain":[0.87,20.2],"reverse":true,"nice":false,"zero":false},"axis":{"title":null}}},"layer":[
{"data":{"name":"a"},"transform":[{"filter":"datum.t=='Fcro'"}],"mark":{"type":"bar","orient":"horizontal"},"encoding":{"x":{"field":"v","type":"quantitative","scale":{"domain":[0,28],"nice":false},"axis":{"values":[0,10,20],"labelExpr":"datum.value > 0 && datum.value % 20 == 0 ? datum.label : ''","title":null}}}},
{"data":{"name":"a"},"transform":[{"filter":"datum.t=='Fcro'"}],"mark":{"type":"point","opacity":0},"encoding":{"x":{"field":"v","type":"quantitative","axis":{"orient":"top","values":[0,10,20],"title":"F. crotonensis"}}}},
{"data":{"name":"bda"},"mark":"rule","encoding":{}}]},
{"width":89,"height":302,"resolve":{"axis":{"x":"independent"}},"encoding":{"y":{"field":"s","type":"quantitative","scale":{"domain":[0.87,20.2],"reverse":true,"nice":false,"zero":false},"axis":{"title":null}}},"layer":[
{"data":{"name":"a"},"transform":[{"filter":"datum.t=='Dia'"}],"mark":{"type":"bar","orient":"horizontal","fill":"#fff","stroke":"#000","strokeWidth":1},"encoding":{"x":{"field":"v","type":"quantitative","scale":{"domain":[0,1500],"nice":false},"axis":{"values":[0,250,500,750,1000,1250,1500],"format":"d","labelExpr":"datum.value % 1000 == 500 ? datum.label : ''","title":null}}}},
{"data":{"name":"a"},"transform":[{"filter":"datum.t=='Dia'"}],"mark":{"type":"rule","color":"#3d78b8","strokeWidth":2,"strokeDash":[5,9]},"encoding":{"x":{"field":"v","type":"quantitative","axis":null},"x2":{"datum":0}}},
{"data":{"name":"a"},"transform":[{"filter":"datum.t=='Dia'"}],"mark":{"type":"point","opacity":0},"encoding":{"x":{"field":"v","type":"quantitative","axis":{"orient":"top","values":[0,250,500,750,1000,1250,1500],"title":"Diatom algal count"}}}},
{"data":{"name":"bda"},"mark":"rule","encoding":{}}]},
{"width":45,"height":302,"title":{"text":"2015","anchor":"start","frame":"group","fontSize":16,"fontWeight":"normal","offset":5,"dx":7,"dy":16,"baseline":"alphabetic"},"encoding":{"y":{"field":"s","type":"quantitative","scale":{"domain":[0.87,20.2],"reverse":true,"nice":false,"zero":false},"axis":{"title":null,"domainColor":"#777","domainWidth":2}}},"layer":[
{"data":{"name":"moa"},"mark":{"type":"text","align":"left","baseline":"middle","fontSize":16,"dx":5},"encoding":{"x":{"datum":0,"type":"quantitative","scale":{"domain":[0,1]},"axis":null},"text":{"field":"m"}}},
{"data":{"name":"bda"},"mark":"rule","encoding":{}}]},
{"width":88,"height":10,"data":{"values":[{"s":0}]},"mark":{"type":"text"},"encoding":{"text":{"value":""}}},
{"width":77,"height":317,"resolve":{"axis":{"x":"independent"}},"encoding":{"y":{"field":"s","type":"quantitative","scale":{"domain":[0.85,24.22],"reverse":true,"nice":false,"zero":false},"axis":{"title":"(b)","labels":true,"ticks":true,"values":[1,2,3,4,5,6,7,8,9,10,11,12,13,14,15,16,17,18,19,20,21,22,23,24],"labelExpr":"datum.value % 2 == 0 ? datum.label : ''","tickSize":4,"labelFontSize":17,"labelPadding":1,"offset":6,"titleAngle":0,"titleX":-64,"titleY":-15,"titleAlign":"left","titleBaseline":"alphabetic","titleFontSize":25,"titleFontWeight":"bold"}}},"layer":[
{"data":{"name":"b"},"transform":[{"filter":"datum.t=='Dst'"}],"mark":{"type":"bar","orient":"horizontal","height":4.5},"encoding":{"x":{"field":"v","type":"quantitative","scale":{"domain":[0,63],"nice":false},"axis":{"values":[0,10,20,30,40,50,60],"labelExpr":"datum.value > 0 && datum.value % 20 == 0 ? datum.label : ''","title":null}}}},
{"data":{"name":"b"},"transform":[{"filter":"datum.t=='Dst'"}],"mark":{"type":"point","opacity":0},"encoding":{"x":{"field":"v","type":"quantitative","axis":{"orient":"top","values":[0,10,20,30,40,50,60],"title":"D. stelligera"}}}},
{"data":{"name":"bdb"},"mark":"rule","encoding":{}}]},
{"width":101,"height":317,"resolve":{"axis":{"x":"independent"}},"encoding":{"y":{"field":"s","type":"quantitative","scale":{"domain":[0.85,24.22],"reverse":true,"nice":false,"zero":false},"axis":{"title":null}}},"layer":[
{"data":{"name":"b"},"transform":[{"filter":"datum.t=='Asub'"}],"mark":{"type":"bar","orient":"horizontal","height":4.5},"encoding":{"x":{"field":"v","type":"quantitative","scale":{"domain":[0,81],"nice":false},"axis":{"values":[0,10,20,30,40,50,60,70,80],"labelExpr":"datum.value > 0 && datum.value % 20 == 0 ? datum.label : ''","title":null}}}},
{"data":{"name":"b"},"transform":[{"filter":"datum.t=='Asub'"}],"mark":{"type":"point","opacity":0},"encoding":{"x":{"field":"v","type":"quantitative","axis":{"orient":"top","values":[0,10,20,30,40,50,60,70,80],"title":"A. subarctica"}}}},
{"data":{"name":"bdb"},"mark":"rule","encoding":{}}]},
{"width":101,"height":317,"resolve":{"axis":{"x":"independent"}},"encoding":{"y":{"field":"s","type":"quantitative","scale":{"domain":[0.85,24.22],"reverse":true,"nice":false,"zero":false},"axis":{"title":null}}},"layer":[
{"data":{"name":"b"},"transform":[{"filter":"datum.t=='Lcom'"}],"mark":{"type":"bar","orient":"horizontal","height":4.5},"encoding":{"x":{"field":"v","type":"quantitative","scale":{"domain":[0,82],"nice":false},"axis":{"values":[0,10,20,30,40,50,60,70,80],"labelExpr":"datum.value > 0 && datum.value % 20 == 0 ? datum.label : ''","title":null}}}},
{"data":{"name":"b"},"transform":[{"filter":"datum.t=='Lcom'"}],"mark":{"type":"point","opacity":0},"encoding":{"x":{"field":"v","type":"quantitative","axis":{"orient":"top","values":[0,10,20,30,40,50,60,70,80],"title":"L. comensis"}}}},
{"data":{"name":"bdb"},"mark":"rule","encoding":{}}]},
{"width":40,"height":317,"resolve":{"axis":{"x":"independent"}},"encoding":{"y":{"field":"s","type":"quantitative","scale":{"domain":[0.85,24.22],"reverse":true,"nice":false,"zero":false},"axis":{"title":null}}},"layer":[
{"data":{"name":"b"},"transform":[{"filter":"datum.t=='Lbod'"}],"mark":{"type":"bar","orient":"horizontal","height":4.5},"encoding":{"x":{"field":"v","type":"quantitative","scale":{"domain":[0,30],"nice":false},"axis":{"values":[0,10,20,30],"labelExpr":"datum.value > 0 && datum.value % 20 == 0 ? datum.label : ''","title":null}}}},
{"data":{"name":"b"},"transform":[{"filter":"datum.t=='Lbod'"}],"mark":{"type":"point","opacity":0},"encoding":{"x":{"field":"v","type":"quantitative","axis":{"orient":"top","values":[0,10,20,30],"title":"L. bodanica."}}}},
{"data":{"name":"bdb"},"mark":"rule","encoding":{}}]},
{"width":39,"height":317,"resolve":{"axis":{"x":"independent"}},"encoding":{"y":{"field":"s","type":"quantitative","scale":{"domain":[0.85,24.22],"reverse":true,"nice":false,"zero":false},"axis":{"title":null}}},"layer":[
{"data":{"name":"b"},"transform":[{"filter":"datum.t=='Fcro'"}],"mark":{"type":"bar","orient":"horizontal","height":4.5},"encoding":{"x":{"field":"v","type":"quantitative","scale":{"domain":[0,29],"nice":false},"axis":{"values":[0,10,20],"labelExpr":"datum.value > 0 && datum.value % 20 == 0 ? datum.label : ''","title":null}}}},
{"data":{"name":"b"},"transform":[{"filter":"datum.t=='Fcro'"}],"mark":{"type":"point","opacity":0},"encoding":{"x":{"field":"v","type":"quantitative","axis":{"orient":"top","values":[0,10,20],"title":"F. crotonensis"}}}},
{"data":{"name":"bdb"},"mark":"rule","encoding":{}}]},
{"width":92,"height":317,"resolve":{"axis":{"x":"independent"}},"encoding":{"y":{"field":"s","type":"quantitative","scale":{"domain":[0.85,24.22],"reverse":true,"nice":false,"zero":false},"axis":{"title":null}}},"layer":[
{"data":{"name":"b"},"transform":[{"filter":"datum.t=='Dia'"}],"mark":{"type":"bar","orient":"horizontal","height":4.5,"fill":"#fff","stroke":"#000","strokeWidth":1},"encoding":{"x":{"field":"v","type":"quantitative","scale":{"domain":[0,3000],"nice":false},"axis":{"values":[0,500,1000,1500,2000,2500,3000],"format":"d","labelExpr":"datum.value % 2000 == 1000 ? datum.label : ''","title":null}}}},
{"data":{"name":"b"},"transform":[{"filter":"datum.t=='Dia'"}],"mark":{"type":"rule","color":"#3d78b8","strokeWidth":2,"strokeDash":[5,9]},"encoding":{"x":{"field":"v","type":"quantitative","axis":null},"x2":{"datum":0}}},
{"data":{"name":"b"},"transform":[{"filter":"datum.t=='Dia'"}],"mark":{"type":"point","opacity":0},"encoding":{"x":{"field":"v","type":"quantitative","axis":{"orient":"top","values":[0,500,1000,1500,2000,2500,3000],"title":"Diatom algal count"}}}},
{"data":{"name":"bdb"},"mark":"rule","encoding":{}}]},
{"width":90,"height":317,"title":{"text":"2016","anchor":"start","frame":"group","fontSize":16,"fontWeight":"normal","offset":6,"dx":3,"dy":17,"baseline":"alphabetic"},"encoding":{"y":{"field":"s","type":"quantitative","scale":{"domain":[0.85,24.22],"reverse":true,"nice":false,"zero":false},"axis":{"title":null,"domainColor":"#777","domainWidth":2}}},"layer":[
{"data":{"name":"mob"},"mark":{"type":"text","align":"left","baseline":"middle","fontSize":16,"dx":3},"encoding":{"x":{"datum":0,"type":"quantitative","scale":{"domain":[0,1]},"axis":null},"text":{"field":"m"}}},
{"data":{"name":"bdb"},"mark":"rule","encoding":{}}]}
]},
{"bounds": "flush", "spacing": 4, "center": true, "hconcat": [
{"width":95,"height":296,"resolve":{"axis":{"x":"independent"}},"encoding":{"y":{"field":"s","type":"quantitative","scale":{"domain":[0.87,20.25],"reverse":true,"nice":false,"zero":false},"axis":{"title":"(c)","labels":true,"ticks":true,"values":[1,2,3,4,5,6,7,8,9,10,11,12,13,14,15,16,17,18,19,20],"labelExpr":"datum.value % 2 == 0 ? datum.label : ''","tickSize":4,"labelFontSize":17,"labelPadding":1,"offset":6,"titleAngle":0,"titleX":-67,"titleY":-30,"titleAlign":"left","titleBaseline":"alphabetic","titleFontSize":25,"titleFontWeight":"bold"}}},"layer":[
{"data":{"name":"c"},"transform":[{"filter":"datum.t=='Dst'"}],"mark":{"type":"bar","orient":"horizontal"},"encoding":{"x":{"field":"v","type":"quantitative","scale":{"domain":[0,91],"nice":false},"axis":{"values":[0,10,20,30,40,50,60,70,80,90],"labelExpr":"datum.value > 0 && datum.value % 20 == 0 ? datum.label : ''","title":"Relative abundance (%)","titleX":5,"titleY":40,"titleAlign":"left","titleBaseline":"alphabetic","titleFontSize":19,"titleFontWeight":"normal"}}}},
{"data":{"name":"c"},"transform":[{"filter":"datum.t=='Dst'"}],"mark":{"type":"point","opacity":0},"encoding":{"x":{"field":"v","type":"quantitative","axis":{"orient":"top","values":[0,10,20,30,40,50,60,70,80,90],"title":"D. stelligera"}}}},
{"data":{"name":"bda"},"mark":"rule","encoding":{}}]},
{"width":26,"height":296,"resolve":{"axis":{"x":"independent"}},"encoding":{"y":{"field":"s","type":"quantitative","scale":{"domain":[0.87,20.25],"reverse":true,"nice":false,"zero":false},"axis":{"title":null}}},"layer":[
{"data":{"name":"c"},"transform":[{"filter":"datum.t=='OPl'"}],"mark":{"type":"bar","orient":"horizontal"},"encoding":{"x":{"field":"v","type":"quantitative","scale":{"domain":[0,24],"nice":false},"axis":{"values":[0,10,20],"labelExpr":"datum.value > 0 && datum.value % 20 == 0 ? datum.label : ''","title":null}}}},
{"data":{"name":"c"},"transform":[{"filter":"datum.t=='OPl'"}],"mark":{"type":"point","opacity":0},"encoding":{"x":{"field":"v","type":"quantitative","axis":{"orient":"top","values":[0,10,20],"title":"O. Plank. Fragilaria"}}}},
{"data":{"name":"bda"},"mark":"rule","encoding":{}}]},
{"width":12,"height":296,"resolve":{"axis":{"x":"independent"}},"encoding":{"y":{"field":"s","type":"quantitative","scale":{"domain":[0.87,20.25],"reverse":true,"nice":false,"zero":false},"axis":{"title":null}}},"layer":[
{"data":{"name":"c"},"transform":[{"filter":"datum.t=='Afor'"}],"mark":{"type":"bar","orient":"horizontal"},"encoding":{"x":{"field":"v","type":"quantitative","scale":{"domain":[0,11],"nice":false},"axis":{"values":[0,10],"labelExpr":"''","title":null}}}},
{"data":{"name":"c"},"transform":[{"filter":"datum.t=='Afor'"}],"mark":{"type":"point","opacity":0},"encoding":{"x":{"field":"v","type":"quantitative","axis":{"orient":"top","values":[0,10],"title":"A. formosa"}}}},
{"data":{"name":"bda"},"mark":"rule","encoding":{}}]},
{"width":73,"height":296,"resolve":{"axis":{"x":"independent"}},"encoding":{"y":{"field":"s","type":"quantitative","scale":{"domain":[0.87,20.25],"reverse":true,"nice":false,"zero":false},"axis":{"title":null}}},"layer":[
{"data":{"name":"c"},"transform":[{"filter":"datum.t=='Ften'"}],"mark":{"type":"bar","orient":"horizontal"},"encoding":{"x":{"field":"v","type":"quantitative","scale":{"domain":[0,66],"nice":false},"axis":{"values":[0,10,20,30,40,50,60],"labelExpr":"datum.value > 0 && datum.value % 20 == 0 ? datum.label : ''","title":null}}}},
{"data":{"name":"c"},"transform":[{"filter":"datum.t=='Ften'"}],"mark":{"type":"point","opacity":0},"encoding":{"x":{"field":"v","type":"quantitative","axis":{"orient":"top","values":[0,10,20,30,40,50,60],"title":"F. tenera"}}}},
{"data":{"name":"bda"},"mark":"rule","encoding":{}}]},
{"width":12,"height":296,"resolve":{"axis":{"x":"independent"}},"encoding":{"y":{"field":"s","type":"quantitative","scale":{"domain":[0.87,20.25],"reverse":true,"nice":false,"zero":false},"axis":{"title":null}}},"layer":[
{"data":{"name":"c"},"transform":[{"filter":"datum.t=='Lcom'"}],"mark":{"type":"bar","orient":"horizontal"},"encoding":{"x":{"field":"v","type":"quantitative","scale":{"domain":[0,11],"nice":false},"axis":{"values":[0,10],"labelExpr":"''","title":null}}}},
{"data":{"name":"c"},"transform":[{"filter":"datum.t=='Lcom'"}],"mark":{"type":"point","opacity":0},"encoding":{"x":{"field":"v","type":"quantitative","axis":{"orient":"top","values":[0,10],"title":"L.comensis"}}}},
{"data":{"name":"bda"},"mark":"rule","encoding":{}}]},
{"width":13,"height":296,"resolve":{"axis":{"x":"independent"}},"encoding":{"y":{"field":"s","type":"quantitative","scale":{"domain":[0.87,20.25],"reverse":true,"nice":false,"zero":false},"axis":{"title":null}}},"layer":[
{"data":{"name":"c"},"transform":[{"filter":"datum.t=='Lbod'"}],"mark":{"type":"bar","orient":"horizontal"},"encoding":{"x":{"field":"v","type":"quantitative","scale":{"domain":[0,12],"nice":false},"axis":{"values":[0,10],"labelExpr":"''","title":null}}}},
{"data":{"name":"c"},"transform":[{"filter":"datum.t=='Lbod'"}],"mark":{"type":"point","opacity":0},"encoding":{"x":{"field":"v","type":"quantitative","axis":{"orient":"top","values":[0,10],"title":"L.bodanica"}}}},
{"data":{"name":"bda"},"mark":"rule","encoding":{}}]},
{"width":14,"height":296,"resolve":{"axis":{"x":"independent"}},"encoding":{"y":{"field":"s","type":"quantitative","scale":{"domain":[0.87,20.25],"reverse":true,"nice":false,"zero":false},"axis":{"title":null}}},"layer":[
{"data":{"name":"c"},"transform":[{"filter":"datum.t=='Asub'"}],"mark":{"type":"bar","orient":"horizontal"},"encoding":{"x":{"field":"v","type":"quantitative","scale":{"domain":[0,13],"nice":false},"axis":{"values":[0,10],"labelExpr":"''","title":null}}}},
{"data":{"name":"c"},"transform":[{"filter":"datum.t=='Asub'"}],"mark":{"type":"point","opacity":0},"encoding":{"x":{"field":"v","type":"quantitative","axis":{"orient":"top","values":[0,10],"title":"A.subarctica"}}}},
{"data":{"name":"bda"},"mark":"rule","encoding":{}}]},
{"width":25,"height":296,"resolve":{"axis":{"x":"independent"}},"encoding":{"y":{"field":"s","type":"quantitative","scale":{"domain":[0.87,20.25],"reverse":true,"nice":false,"zero":false},"axis":{"title":null}}},"layer":[
{"data":{"name":"c"},"transform":[{"filter":"datum.t=='Oth'"}],"mark":{"type":"bar","orient":"horizontal"},"encoding":{"x":{"field":"v","type":"quantitative","scale":{"domain":[0,24],"nice":false},"axis":{"values":[0,10,20],"labelExpr":"datum.value > 0 && datum.value % 20 == 0 ? datum.label : ''","title":null}}}},
{"data":{"name":"c"},"transform":[{"filter":"datum.t=='Oth'"}],"mark":{"type":"point","opacity":0},"encoding":{"x":{"field":"v","type":"quantitative","axis":{"orient":"top","values":[0,10,20],"title":"Other planktonic"}}}},
{"data":{"name":"bda"},"mark":"rule","encoding":{}}]},
{"width":48,"height":296,"resolve":{"axis":{"x":"independent"}},"encoding":{"y":{"field":"s","type":"quantitative","scale":{"domain":[0.87,20.25],"reverse":true,"nice":false,"zero":false},"axis":{"title":null}}},"layer":[
{"data":{"name":"c"},"transform":[{"filter":"datum.t=='Ben'"}],"mark":{"type":"bar","orient":"horizontal"},"encoding":{"x":{"field":"v","type":"quantitative","scale":{"domain":[0,49],"nice":false},"axis":{"values":[0,10,20,30,40],"labelExpr":"datum.value > 0 && datum.value % 20 == 0 ? datum.label : ''","title":null}}}},
{"data":{"name":"c"},"transform":[{"filter":"datum.t=='Ben'"}],"mark":{"type":"point","opacity":0},"encoding":{"x":{"field":"v","type":"quantitative","axis":{"orient":"top","values":[0,10,20,30,40],"title":"Benthic taxa"}}}},
{"data":{"name":"bda"},"mark":"rule","encoding":{}}]},
{"width":89,"height":296,"resolve":{"axis":{"x":"independent"}},"encoding":{"y":{"field":"s","type":"quantitative","scale":{"domain":[0.87,20.25],"reverse":true,"nice":false,"zero":false},"axis":{"title":null}}},"layer":[
{"data":{"name":"c"},"transform":[{"filter":"datum.t=='Dia'"}],"mark":{"type":"bar","orient":"horizontal","fill":"#fff","stroke":"#000","strokeWidth":1},"encoding":{"x":{"field":"v","type":"quantitative","scale":{"domain":[0,1500],"nice":false},"axis":{"values":[0,250,500,750,1000,1250,1500],"format":"d","labelExpr":"datum.value % 1000 == 500 ? datum.label : ''","title":"# cells mL⁻¹","titleX":-4,"titleY":40,"titleAlign":"left","titleBaseline":"alphabetic","titleFontSize":19,"titleFontWeight":"normal"}}}},
{"data":{"name":"c"},"transform":[{"filter":"datum.t=='Dia'"}],"mark":{"type":"rule","color":"#3d78b8","strokeWidth":2,"strokeDash":[5,9]},"encoding":{"x":{"field":"v","type":"quantitative","axis":null},"x2":{"datum":0}}},
{"data":{"name":"c"},"transform":[{"filter":"datum.t=='Dia'"}],"mark":{"type":"point","opacity":0},"encoding":{"x":{"field":"v","type":"quantitative","axis":{"orient":"top","values":[0,250,500,750,1000,1250,1500],"title":"Diatom algal count"}}}},
{"data":{"name":"bda"},"mark":"rule","encoding":{}}]},
{"width":59,"height":296,"title":{"text":"2015","anchor":"start","frame":"group","fontSize":16,"fontWeight":"normal","offset":10,"dx":16,"dy":16,"baseline":"alphabetic"},"encoding":{"y":{"field":"s","type":"quantitative","scale":{"domain":[0.87,20.25],"reverse":true,"nice":false,"zero":false},"axis":{"title":null,"domainColor":"#777","domainWidth":2,"offset":-9}}},"layer":[
{"data":{"name":"moc"},"mark":{"type":"text","align":"left","baseline":"middle","fontSize":16,"dx":18},"encoding":{"x":{"datum":0,"type":"quantitative","scale":{"domain":[0,1]},"axis":null},"text":{"field":"m"}}},
{"data":{"name":"bda"},"mark":"rule","encoding":{}}]},
{"width":76,"height":10,"data":{"values":[{"s":0}]},"mark":{"type":"text"},"encoding":{"text":{"value":""}}},
{"width":24,"height":308,"resolve":{"axis":{"x":"independent"}},"encoding":{"y":{"field":"s","type":"quantitative","scale":{"domain":[0.85,24.25],"reverse":true,"nice":false,"zero":false},"axis":{"title":"(d)","labels":true,"ticks":true,"values":[1,2,3,4,5,6,7,8,9,10,11,12,13,14,15,16,17,18,19,20,21,22,23,24],"labelExpr":"datum.value % 2 == 0 ? datum.label : ''","tickSize":4,"labelFontSize":17,"labelPadding":1,"offset":5,"titleAngle":0,"titleX":-62,"titleY":-21,"titleAlign":"left","titleBaseline":"alphabetic","titleFontSize":25,"titleFontWeight":"bold"}}},"layer":[
{"data":{"name":"d"},"transform":[{"filter":"datum.t=='Steph'"}],"mark":{"type":"bar","orient":"horizontal","height":4.5},"encoding":{"x":{"field":"v","type":"quantitative","scale":{"domain":[0,26],"nice":false},"axis":{"values":[0,10,20],"labelExpr":"datum.value > 0 && datum.value % 20 == 0 ? datum.label : ''","title":null}}}},
{"data":{"name":"d"},"transform":[{"filter":"datum.t=='Steph'"}],"mark":{"type":"point","opacity":0},"encoding":{"x":{"field":"v","type":"quantitative","axis":{"orient":"top","values":[0,10,20],"title":"Stephanodiscus"}}}},
{"data":{"name":"bdb"},"mark":"rule","encoding":{}}]},
{"width":82,"height":308,"resolve":{"axis":{"x":"independent"}},"encoding":{"y":{"field":"s","type":"quantitative","scale":{"domain":[0.85,24.25],"reverse":true,"nice":false,"zero":false},"axis":{"title":null}}},"layer":[
{"data":{"name":"d"},"transform":[{"filter":"datum.t=='Dst'"}],"mark":{"type":"bar","orient":"horizontal","height":4.5},"encoding":{"x":{"field":"v","type":"quantitative","scale":{"domain":[0,74],"nice":false},"axis":{"values":[0,10,20,30,40,50,60,70],"labelExpr":"datum.value > 0 && datum.value % 20 == 0 ? datum.label : ''","title":null}}}},
{"data":{"name":"d"},"transform":[{"filter":"datum.t=='Dst'"}],"mark":{"type":"point","opacity":0},"encoding":{"x":{"field":"v","type":"quantitative","axis":{"orient":"top","values":[0,10,20,30,40,50,60,70],"title":"D. stelligera"}}}},
{"data":{"name":"bdb"},"mark":"rule","encoding":{}}]},
{"width":24,"height":308,"resolve":{"axis":{"x":"independent"}},"encoding":{"y":{"field":"s","type":"quantitative","scale":{"domain":[0.85,24.25],"reverse":true,"nice":false,"zero":false},"axis":{"title":null}}},"layer":[
{"data":{"name":"d"},"transform":[{"filter":"datum.t=='OPl'"}],"mark":{"type":"bar","orient":"horizontal","height":4.5},"encoding":{"x":{"field":"v","type":"quantitative","scale":{"domain":[0,22],"nice":false},"axis":{"values":[0,10,20],"labelExpr":"datum.value > 0 && datum.value % 20 == 0 ? datum.label : ''","title":null}}}},
{"data":{"name":"d"},"transform":[{"filter":"datum.t=='OPl'"}],"mark":{"type":"point","opacity":0},"encoding":{"x":{"field":"v","type":"quantitative","axis":{"orient":"top","values":[0,10,20],"title":"O.Plank. Fragilaria"}}}},
{"data":{"name":"bdb"},"mark":"rule","encoding":{}}]},
{"width":70,"height":308,"resolve":{"axis":{"x":"independent"}},"encoding":{"y":{"field":"s","type":"quantitative","scale":{"domain":[0.85,24.25],"reverse":true,"nice":false,"zero":false},"axis":{"title":null}}},"layer":[
{"data":{"name":"d"},"transform":[{"filter":"datum.t=='Ften'"}],"mark":{"type":"bar","orient":"horizontal","height":4.5},"encoding":{"x":{"field":"v","type":"quantitative","scale":{"domain":[0,67],"nice":false},"axis":{"values":[0,10,20,30,40,50,60],"labelExpr":"datum.value > 0 && datum.value % 20 == 0 ? datum.label : ''","title":null}}}},
{"data":{"name":"d"},"transform":[{"filter":"datum.t=='Ften'"}],"mark":{"type":"point","opacity":0},"encoding":{"x":{"field":"v","type":"quantitative","axis":{"orient":"top","values":[0,10,20,30,40,50,60],"title":"F. tenera"}}}},
{"data":{"name":"bdb"},"mark":"rule","encoding":{}}]},
{"width":35,"height":308,"resolve":{"axis":{"x":"independent"}},"encoding":{"y":{"field":"s","type":"quantitative","scale":{"domain":[0.85,24.25],"reverse":true,"nice":false,"zero":false},"axis":{"title":null}}},"layer":[
{"data":{"name":"d"},"transform":[{"filter":"datum.t=='Lcom'"}],"mark":{"type":"bar","orient":"horizontal","height":4.5},"encoding":{"x":{"field":"v","type":"quantitative","scale":{"domain":[0,28],"nice":false},"axis":{"values":[0,10,20],"labelExpr":"datum.value > 0 && datum.value % 20 == 0 ? datum.label : ''","title":null}}}},
{"data":{"name":"d"},"transform":[{"filter":"datum.t=='Lcom'"}],"mark":{"type":"point","opacity":0},"encoding":{"x":{"field":"v","type":"quantitative","axis":{"orient":"top","values":[0,10,20],"title":"L. comensis"}}}},
{"data":{"name":"bdb"},"mark":"rule","encoding":{}}]},
{"width":14,"height":308,"resolve":{"axis":{"x":"independent"}},"encoding":{"y":{"field":"s","type":"quantitative","scale":{"domain":[0.85,24.25],"reverse":true,"nice":false,"zero":false},"axis":{"title":null}}},"layer":[
{"data":{"name":"d"},"transform":[{"filter":"datum.t=='Lbod'"}],"mark":{"type":"bar","orient":"horizontal","height":4.5},"encoding":{"x":{"field":"v","type":"quantitative","scale":{"domain":[0,11],"nice":false},"axis":{"values":[0,10],"labelExpr":"''","title":null}}}},
{"data":{"name":"d"},"transform":[{"filter":"datum.t=='Lbod'"}],"mark":{"type":"point","opacity":0},"encoding":{"x":{"field":"v","type":"quantitative","axis":{"orient":"top","values":[0,10],"title":"L. bodanica"}}}},
{"data":{"name":"bdb"},"mark":"rule","encoding":{}}]},
{"width":70,"height":308,"resolve":{"axis":{"x":"independent"}},"encoding":{"y":{"field":"s","type":"quantitative","scale":{"domain":[0.85,24.25],"reverse":true,"nice":false,"zero":false},"axis":{"title":null}}},"layer":[
{"data":{"name":"d"},"transform":[{"filter":"datum.t=='Afor'"}],"mark":{"type":"bar","orient":"horizontal","height":4.5},"encoding":{"x":{"field":"v","type":"quantitative","scale":{"domain":[0,64],"nice":false},"axis":{"values":[0,10,20,30,40,50,60],"labelExpr":"datum.value > 0 && datum.value % 20 == 0 ? datum.label : ''","title":null}}}},
{"data":{"name":"d"},"transform":[{"filter":"datum.t=='Afor'"}],"mark":{"type":"point","opacity":0},"encoding":{"x":{"field":"v","type":"quantitative","axis":{"orient":"top","values":[0,10,20,30,40,50,60],"title":"A. formosa"}}}},
{"data":{"name":"bdb"},"mark":"rule","encoding":{}}]},
{"width":47,"height":308,"resolve":{"axis":{"x":"independent"}},"encoding":{"y":{"field":"s","type":"quantitative","scale":{"domain":[0.85,24.25],"reverse":true,"nice":false,"zero":false},"axis":{"title":null}}},"layer":[
{"data":{"name":"d"},"transform":[{"filter":"datum.t=='Fcro'"}],"mark":{"type":"bar","orient":"horizontal","height":4.5},"encoding":{"x":{"field":"v","type":"quantitative","scale":{"domain":[0,43],"nice":false},"axis":{"values":[0,10,20,30,40],"labelExpr":"datum.value > 0 && datum.value % 20 == 0 ? datum.label : ''","title":null}}}},
{"data":{"name":"d"},"transform":[{"filter":"datum.t=='Fcro'"}],"mark":{"type":"point","opacity":0},"encoding":{"x":{"field":"v","type":"quantitative","axis":{"orient":"top","values":[0,10,20,30,40],"title":"F. crotonensis"}}}},
{"data":{"name":"bdb"},"mark":"rule","encoding":{}}]},
{"width":24,"height":308,"resolve":{"axis":{"x":"independent"}},"encoding":{"y":{"field":"s","type":"quantitative","scale":{"domain":[0.85,24.25],"reverse":true,"nice":false,"zero":false},"axis":{"title":null}}},"layer":[
{"data":{"name":"d"},"transform":[{"filter":"datum.t=='Asub'"}],"mark":{"type":"bar","orient":"horizontal","height":4.5},"encoding":{"x":{"field":"v","type":"quantitative","scale":{"domain":[0,30],"nice":false},"axis":{"values":[0,10,20,30],"labelExpr":"datum.value > 0 && datum.value % 20 == 0 ? datum.label : ''","title":null}}}},
{"data":{"name":"d"},"transform":[{"filter":"datum.t=='Asub'"}],"mark":{"type":"point","opacity":0},"encoding":{"x":{"field":"v","type":"quantitative","axis":{"orient":"top","values":[0,10,20,30],"title":"A. subarctica"}}}},
{"data":{"name":"bdb"},"mark":"rule","encoding":{}}]},
{"width":24,"height":308,"resolve":{"axis":{"x":"independent"}},"encoding":{"y":{"field":"s","type":"quantitative","scale":{"domain":[0.85,24.25],"reverse":true,"nice":false,"zero":false},"axis":{"title":null}}},"layer":[
{"data":{"name":"d"},"transform":[{"filter":"datum.t=='Oth'"}],"mark":{"type":"bar","orient":"horizontal","height":4.5},"encoding":{"x":{"field":"v","type":"quantitative","scale":{"domain":[0,32],"nice":false},"axis":{"values":[0,10,20,30],"labelExpr":"datum.value > 0 && datum.value % 20 == 0 ? datum.label : ''","title":null}}}},
{"data":{"name":"d"},"transform":[{"filter":"datum.t=='Oth'"}],"mark":{"type":"point","opacity":0},"encoding":{"x":{"field":"v","type":"quantitative","axis":{"orient":"top","values":[0,10,20,30],"title":"Other planktonic"}}}},
{"data":{"name":"bdb"},"mark":"rule","encoding":{}}]},
{"width":36,"height":308,"resolve":{"axis":{"x":"independent"}},"encoding":{"y":{"field":"s","type":"quantitative","scale":{"domain":[0.85,24.25],"reverse":true,"nice":false,"zero":false},"axis":{"title":null}}},"layer":[
{"data":{"name":"d"},"transform":[{"filter":"datum.t=='Ben'"}],"mark":{"type":"bar","orient":"horizontal","height":4.5},"encoding":{"x":{"field":"v","type":"quantitative","scale":{"domain":[0,30],"nice":false},"axis":{"values":[0,10,20,30],"labelExpr":"datum.value > 0 && datum.value % 20 == 0 ? datum.label : ''","title":null}}}},
{"data":{"name":"d"},"transform":[{"filter":"datum.t=='Ben'"}],"mark":{"type":"point","opacity":0},"encoding":{"x":{"field":"v","type":"quantitative","axis":{"orient":"top","values":[0,10,20,30],"title":"Benthic"}}}},
{"data":{"name":"bdb"},"mark":"rule","encoding":{}}]},
{"width":86,"height":308,"resolve":{"axis":{"x":"independent"}},"encoding":{"y":{"field":"s","type":"quantitative","scale":{"domain":[0.85,24.25],"reverse":true,"nice":false,"zero":false},"axis":{"title":null}}},"layer":[
{"data":{"name":"d"},"transform":[{"filter":"datum.t=='Dia'"}],"mark":{"type":"bar","orient":"horizontal","height":4.5,"fill":"#fff","stroke":"#000","strokeWidth":1},"encoding":{"x":{"field":"v","type":"quantitative","scale":{"domain":[0,6000],"nice":false},"axis":{"values":[0,1000,2000,3000,4000,5000,6000],"format":"d","labelExpr":"datum.value % 4000 == 2000 ? datum.label : ''","title":null}}}},
{"data":{"name":"d"},"transform":[{"filter":"datum.t=='Dia'"}],"mark":{"type":"rule","color":"#3d78b8","strokeWidth":2,"strokeDash":[5,9]},"encoding":{"x":{"field":"v","type":"quantitative","axis":null},"x2":{"datum":0}}},
{"data":{"name":"d"},"transform":[{"filter":"datum.t=='Dia'"}],"mark":{"type":"point","opacity":0},"encoding":{"x":{"field":"v","type":"quantitative","axis":{"orient":"top","values":[0,1000,2000,3000,4000,5000,6000],"title":"Diatom algal count"}}}},
{"data":{"name":"bdb"},"mark":"rule","encoding":{}}]},
{"width":52,"height":308,"title":{"text":"2016","anchor":"start","frame":"group","fontSize":16,"fontWeight":"normal","offset":6,"dx":6,"dy":18,"baseline":"alphabetic"},"encoding":{"y":{"field":"s","type":"quantitative","scale":{"domain":[0.85,24.25],"reverse":true,"nice":false,"zero":false},"axis":{"title":null,"domainColor":"#777","domainWidth":2}}},"layer":[
{"data":{"name":"mod"},"mark":{"type":"text","align":"left","baseline":"middle","fontSize":16,"dx":5},"encoding":{"x":{"datum":0,"type":"quantitative","scale":{"domain":[0,1]},"axis":null},"text":{"field":"m"}}},
{"data":{"name":"bdb"},"mark":"rule","encoding":{}}]}
]}
],
"config": {
"view": {"stroke": null},
"font": "Liberation Sans",
"bar": {"color": "#000"},
"rule": {"strokeDash": [12, 7], "strokeWidth": 2.5, "color": "#000"},
"axis": {"grid": false, "domainColor": "#333", "tickColor": "#333", "domainWidth": 1.3, "tickWidth": 1, "labelColor": "#000", "titleColor": "#000", "labelFont": "Liberation Sans", "titleFont": "Liberation Sans"},
"axisBottom": {"tickSize": 3, "labelFontSize": 16, "labelPadding": 2, "labelFlush": false, "labelOverlap": false},
"axisTop": {"labels": false, "tickSize": -3, "titleAngle": 315, "titleX": 2, "titleY": -6, "titleAlign": "left", "titleBaseline": "alphabetic", "titleFontSize": 17, "titleFontWeight": "normal"},
"axisLeft": {"labels": false, "ticks": false},
"title": {"font": "Liberation Sans", "color": "#000"},
"text": {"font": "Liberation Sans", "color": "#000"}
}
}
